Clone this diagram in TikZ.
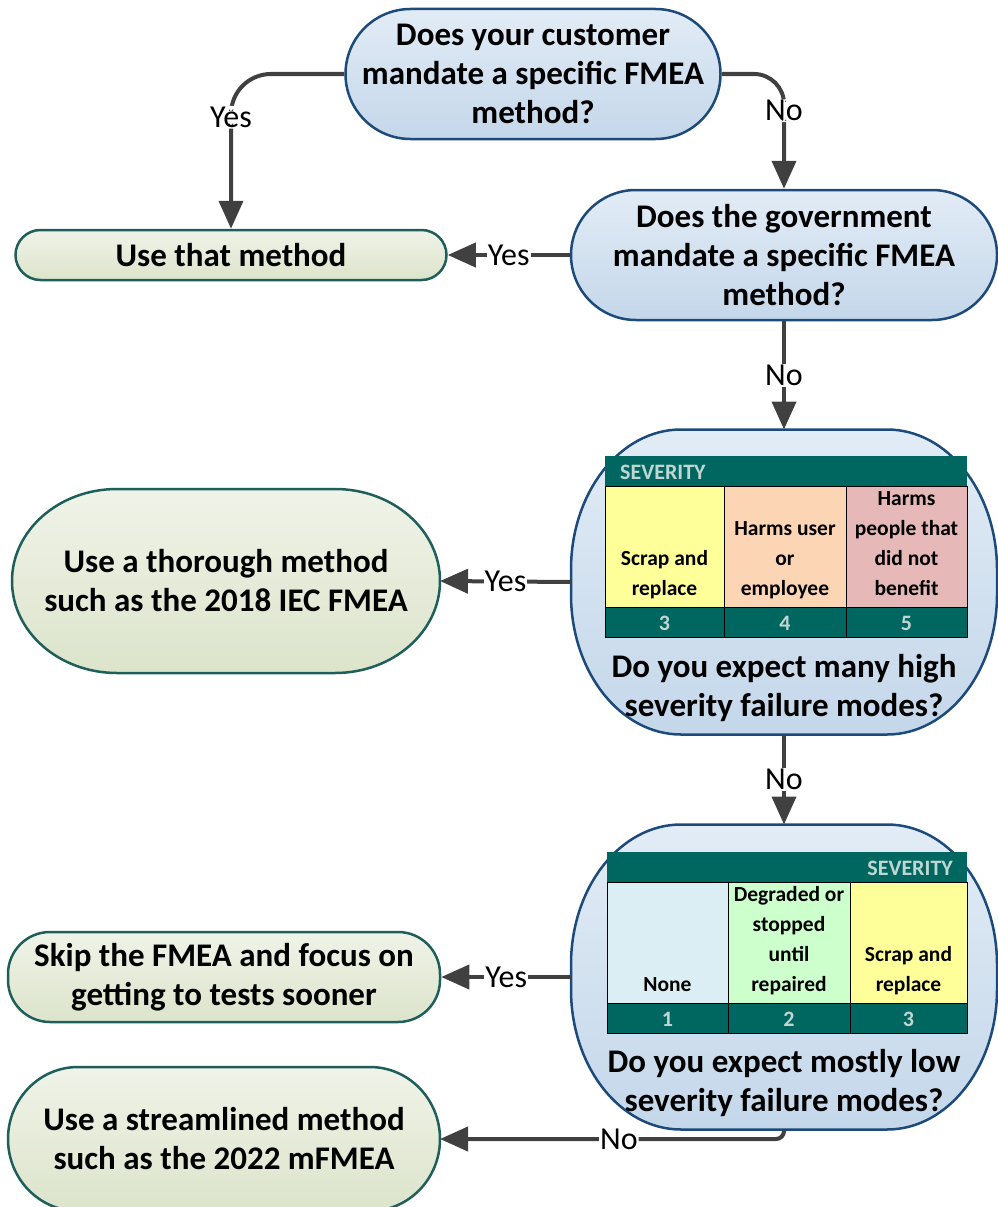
\documentclass[tikz,border=0pt]{standalone}
\usepackage{fontspec}
\setmainfont{Carlito}
\usetikzlibrary{arrows.meta}
\definecolor{decB}{HTML}{1C4A7A}
\definecolor{decT}{HTML}{E2ECF6}
\definecolor{decBot}{HTML}{C4D7EA}
\definecolor{terB}{HTML}{1F5F5B}
\definecolor{terT}{HTML}{F0F3E8}
\definecolor{terBot}{HTML}{DCE4CB}
\definecolor{arrg}{HTML}{404040}
\definecolor{tteal}{HTML}{006660}
\definecolor{tlight}{HTML}{C0D6D3}
\definecolor{cyel}{HTML}{FFFF99}
\definecolor{cpeach}{HTML}{FCD5B4}
\definecolor{cpink}{HTML}{E6B8B7}
\definecolor{cblue}{HTML}{DAEEF3}
\definecolor{cgreen}{HTML}{CCFFCC}
\pgfdeclarelayer{bg}
\pgfsetlayers{bg,main}
% elliptical-cornered box around a named node: #1 node, #2 rx, #3 ry, #4 style
\newcommand\ellbox[4]{%
  \path[#4] ([xshift=#2]#1.north west) -- ([xshift=-#2]#1.north east)
    arc[start angle=90,end angle=0,x radius=#2,y radius=#3]
    -- ([yshift=#3]#1.south east)
    arc[start angle=0,end angle=-90,x radius=#2,y radius=#3]
    -- ([xshift=#2]#1.south west)
    arc[start angle=270,end angle=180,x radius=#2,y radius=#3]
    -- ([yshift=-#3]#1.north west)
    arc[start angle=180,end angle=90,x radius=#2,y radius=#3] -- cycle;}
\begin{document}
\begin{tikzpicture}[x=1pt,y=-1pt,
  dec/.style={draw=decB, line width=2.5pt, top color=decT, bottom color=decBot, align=center, inner sep=0pt,
    font=\bfseries\fontsize{33}{39}\selectfont},
  term/.style={draw=terB, line width=2.5pt, top color=terT, bottom color=terBot, align=center, inner sep=0pt,
    font=\bfseries\fontsize{33}{39}\selectfont},
  decfill/.style={draw=decB, line width=2.5pt, top color=decT, bottom color=decBot},
  termfill/.style={draw=terB, line width=2.5pt, top color=terT, bottom color=terBot},
  ghost/.style={draw=none, inner sep=0pt, outer sep=0pt, align=center,
    font=\bfseries\fontsize{33}{39}\selectfont},
  qtext/.style={align=center, inner sep=0pt, font=\bfseries\fontsize{33}{39}\selectfont},
  conn/.style={draw=arrg, line width=4pt, -{Triangle[length=28pt,width=24pt]}},
  lbl/.style={fill=white, inner sep=1pt, text=black, font=\fontsize{32}{34}\selectfont},
  cell/.style={draw=black, line width=0.8pt},
  ctext/.style={align=center, inner sep=0pt, anchor=south, font=\bfseries\fontsize{21.5}{30}\selectfont},
  ttext/.style={inner sep=0pt, text=tlight, font=\bfseries\fontsize{22}{24}\selectfont}]
\useasboundingbox (0,0) rectangle (997,1207);

% ---------- nodes ----------
\node[dec, minimum width=375pt, minimum height=130pt, rounded corners=65pt] (q1) at (533,74)
  {Does your customer\\mandate a specific FMEA\\method?};
\node[dec, minimum width=426pt, minimum height=130pt, rounded corners=65pt] (q2) at (784,255)
  {Does the government\\mandate a specific FMEA\\method?};
\node[term, minimum width=431pt, minimum height=50pt, rounded corners=25pt] (use) at (231,255)
  {Use that method};
\node[term, minimum width=432pt, minimum height=90pt, rounded corners=42pt] (skip) at (224,977)
  {Skip the FMEA and focus on\\getting to tests sooner};

\node[ghost, minimum width=426pt, minimum height=305pt] (q3) at (784,582) {};
\node[ghost, minimum width=426pt, minimum height=305pt] (q4) at (784,977) {};
\node[ghost, minimum width=428pt, minimum height=184pt] (thor) at (226,581)
  {Use a thorough method\\such as the 2018 IEC FMEA};
\node[ghost, minimum width=432pt, minimum height=144pt] (stream) at (224,1139)
  {Use a streamlined method\\such as the 2022 mFMEA};

\begin{pgfonlayer}{bg}
  \ellbox{q3}{110pt}{140pt}{decfill}
  \ellbox{q4}{110pt}{140pt}{decfill}
  \ellbox{thor}{105pt}{92pt}{termfill}
  \ellbox{stream}{70pt}{72pt}{termfill}
\end{pgfonlayer}

% ---------- table 1 ----------
\fill[tteal] (605,456) rectangle (967,486);
\node[ttext, anchor=west] (t1h) at (620,472) {SEVERITY};
\filldraw[cell, fill=cyel] (605,486) rectangle (724,607);
\filldraw[cell, fill=cpeach] (724,486) rectangle (846,607);
\filldraw[cell, fill=cpink] (846,486) rectangle (967,607);
\filldraw[cell, fill=tteal] (605,607) rectangle (724,637);
\filldraw[cell, fill=tteal] (724,607) rectangle (846,637);
\filldraw[cell, fill=tteal] (846,607) rectangle (967,637);
\node[ctext] (c11) at (664.5,605) {Scrap and\strut\\replace\strut};
\node[ctext] (c12) at (785,605) {Harms user\strut\\or\strut\\employee\strut};
\node[ctext] (c13) at (906.5,605) {Harms\strut\\people that\strut\\did not\strut\\benefit\strut};
\node[ttext] (n11) at (664.5,623) {3};
\node[ttext] (n12) at (785,623) {4};
\node[ttext] (n13) at (906.5,623) {5};
\node[qtext] (q3t) at (784,688) {Do you expect many high\\severity failure modes?};

% ---------- table 2 ----------
\fill[tteal] (607,852) rectangle (967,882);
\node[ttext, anchor=east] (t2h) at (953,868) {SEVERITY};
\filldraw[cell, fill=cblue] (607,882) rectangle (728,1003);
\filldraw[cell, fill=cgreen] (728,882) rectangle (850,1003);
\filldraw[cell, fill=cyel] (850,882) rectangle (967,1003);
\filldraw[cell, fill=tteal] (607,1003) rectangle (728,1033);
\filldraw[cell, fill=tteal] (728,1003) rectangle (850,1033);
\filldraw[cell, fill=tteal] (850,1003) rectangle (967,1033);
\node[ctext] (c21) at (667.5,1001) {None\strut};
\node[ctext] (c22) at (789,1001) {Degraded or\strut\\stopped\strut\\until\strut\\repaired\strut};
\node[ctext] (c23) at (908.5,1001) {Scrap and\strut\\replace\strut};
\node[ttext] (n21) at (667.5,1019) {1};
\node[ttext] (n22) at (789,1019) {2};
\node[ttext] (n23) at (908.5,1019) {3};
\node[qtext] (q4t) at (784,1083) {Do you expect mostly low\\severity failure modes?};

% ---------- connectors ----------
\draw[conn, rounded corners=40pt] (q1.west) -| node[lbl, pos=0.64] {Yes} (use.north);
\draw[conn, rounded corners=30pt] (q1.east) -| node[lbl, pos=0.66] {No} (q2.north);
\draw[conn] (q2.west) -- node[lbl] {Yes} (use.east);
\draw[conn] (q2.south) -- node[lbl] {No} (q3.north);
\draw[conn] (q3.west) -- node[lbl] {Yes} (thor.east);
\draw[conn] (q3.south) -- node[lbl] {No} (q4.north);
\draw[conn] (q4.west) -- node[lbl] {Yes} (skip.east);
\draw[conn, rounded corners=8pt] (q4.south) |- node[lbl, pos=0.74] {No} (stream.east);
\end{tikzpicture}
\end{document}
